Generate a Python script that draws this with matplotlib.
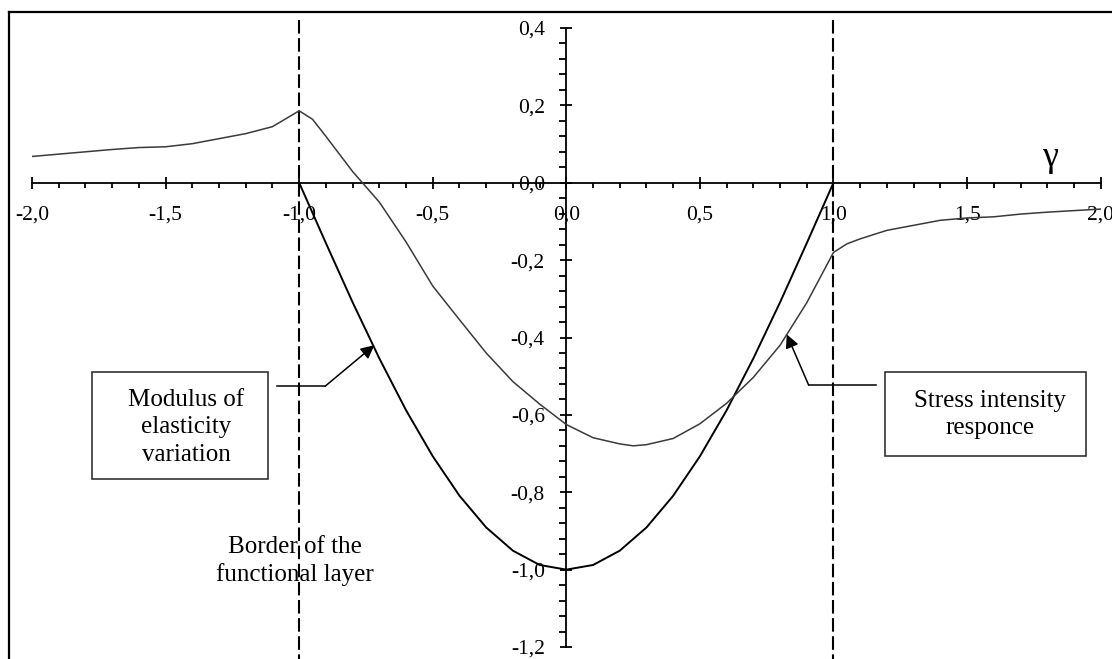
# -*- coding: utf-8 -*-
'''
 stress intensity response vs modulus of elasticity variation
'''
import numpy as np
import matplotlib
matplotlib.use('Agg')
import matplotlib.pyplot as plt
from matplotlib.patches import Rectangle
from matplotlib.ticker import FixedLocator, FixedFormatter, MultipleLocator

plt.rcParams['font.family'] = ['Liberation Serif', 'DejaVu Serif']

# modulus of elasticity variation (inside the functional layer)
mod_x = [-1.0, -0.9, -0.8, -0.7, -0.6, -0.5, -0.4, -0.3, -0.2, -0.1, 0.0,
         0.1, 0.2, 0.3, 0.4, 0.5, 0.6, 0.7, 0.8, 0.9, 1.0]
mod_y = [0.0, -0.156, -0.309, -0.454, -0.588, -0.707, -0.809, -0.891, -0.951, -0.988, -1.0,
         -0.988, -0.951, -0.891, -0.809, -0.707, -0.588, -0.454, -0.309, -0.156, 0.0]

# stress intensity responce
str_x = [-2.0, -1.9, -1.8, -1.7, -1.6, -1.5, -1.4, -1.3, -1.2, -1.1, -1.0, -0.95,
         -0.9, -0.8, -0.7, -0.6, -0.5, -0.4, -0.3, -0.2, -0.1, 0.0,
         0.1, 0.2, 0.25, 0.3, 0.4, 0.5, 0.6, 0.7, 0.8, 0.9, 1.0,
         1.05, 1.1, 1.2, 1.3, 1.4, 1.5, 1.6, 1.7, 1.8, 1.9, 2.0]
str_y = [0.068, 0.074, 0.080, 0.086, 0.091, 0.093, 0.101, 0.114, 0.127, 0.145, 0.186, 0.164,
         0.120, 0.029, -0.050, -0.153, -0.267, -0.354, -0.440, -0.514, -0.572, -0.625,
         -0.659, -0.675, -0.680, -0.677, -0.661, -0.623, -0.570, -0.503, -0.420, -0.310, -0.180,
         -0.158, -0.145, -0.123, -0.110, -0.097, -0.091, -0.088, -0.081, -0.076, -0.072, -0.068]

border_x = [-1.0, 1.0]

xticks = [-2.0, -1.5, -1.0, -0.5, 0.0, 0.5, 1.0, 1.5, 2.0]
xtick_labels = ['-2,0', '-1,5', '-1,0', '-0,5', '0,0', '0,5', '1,0', '1,5', '2,0']
yticks = [0.4, 0.2, 0.0, -0.2, -0.4, -0.6, -0.8, -1.0, -1.2]
ytick_labels = ['0,4', '0,2', '0,0', '-0,2', '-0,4', '-0,6', '-0,8', '-1,0', '-1,2']


def setup_axes(ax):
    ax.set_xlim(-2.0, 2.0)
    ax.set_ylim(-1.2, 0.4)
    for s in ['top', 'right']:
        ax.spines[s].set_visible(False)
    ax.spines['left'].set_position(('data', 0))
    ax.spines['bottom'].set_position(('data', 0))
    for s in ['left', 'bottom']:
        ax.spines[s].set_linewidth(1.3)

    ax.xaxis.set_major_locator(FixedLocator(xticks))
    ax.xaxis.set_major_formatter(FixedFormatter(xtick_labels))
    ax.xaxis.set_minor_locator(MultipleLocator(0.1))
    ax.yaxis.set_major_locator(FixedLocator(yticks))
    ax.yaxis.set_major_formatter(FixedFormatter(ytick_labels))
    ax.yaxis.set_minor_locator(MultipleLocator(0.04))

    ax.tick_params(axis='x', which='major', direction='inout', length=9, width=1.3,
                   pad=12, labelsize=15.5)
    ax.tick_params(axis='x', which='minor', direction='out', length=3.5, width=1.3)
    ax.tick_params(axis='y', which='major', direction='inout', length=9, width=1.3,
                   pad=11, labelsize=15.5)
    ax.tick_params(axis='y', which='minor', direction='out', length=5, width=1.3)


def draw_box(ax, x0, y0, x1, y1):
    ax.add_patch(Rectangle((x0, y0), x1 - x0, y1 - y0, fill=False,
                           edgecolor='#222222', lw=1.1, zorder=3))


def draw_arrow(ax, start, elbow, tip):
    ax.plot([start[0], elbow[0]], [start[1], elbow[1]], color='k', lw=1.1)
    ax.annotate('', xy=tip, xytext=elbow,
                arrowprops=dict(arrowstyle='-|>', color='k', lw=1.1,
                                mutation_scale=20, shrinkA=0, shrinkB=0))


def run():
    fig = plt.figure(figsize=(11.12, 6.59), dpi=100)
    ax = fig.add_axes([0.0288, 0.0182, 0.9610, 0.9393])
    setup_axes(ax)

    ax.plot(mod_x, mod_y, color='black', lw=1.4, zorder=4)
    ax.plot(str_x, str_y, color='#3a3a3a', lw=1.1, zorder=4)

    for bx in border_x:
        ax.plot([bx, bx], [0.42, -1.25], color='black', lw=1.5,
                dashes=(6.5, 2.2), clip_on=False, zorder=2)

    ax.text(1.81, 0.066, 'γ', fontsize=26, ha='center', va='center')

    # text boxes and arrows
    draw_box(ax, -1.775, -0.766, -1.116, -0.490)
    ax.text(-1.423, -0.632, 'Modulus of\nelasticity\nvariation', fontsize=18,
            ha='center', va='center', linespacing=1.32)
    draw_arrow(ax, (-1.083, -0.526), (-0.903, -0.526), (-0.719, -0.42))

    draw_box(ax, 1.191, -0.705, 1.944, -0.488)
    ax.text(1.584, -0.599, 'Stress intensity\nresponce', fontsize=18,
            ha='center', va='center', linespacing=1.3)
    draw_arrow(ax, (1.16, -0.523), (0.907, -0.523), (0.825, -0.392))

    ax.text(-1.015, -0.978, 'Border of the\nfunctional layer', fontsize=18,
            ha='center', va='center', linespacing=1.27)

    # outer frame (left and top only)
    fig.add_artist(plt.Line2D([0.0081, 0.0081], [0.0, 0.9818], color='k', lw=1.6))
    fig.add_artist(plt.Line2D([0.0081, 1.0], [0.9818, 0.9818], color='k', lw=1.6))

    fig.savefig('out.png', dpi=100)


if __name__ == '__main__':
    run()
